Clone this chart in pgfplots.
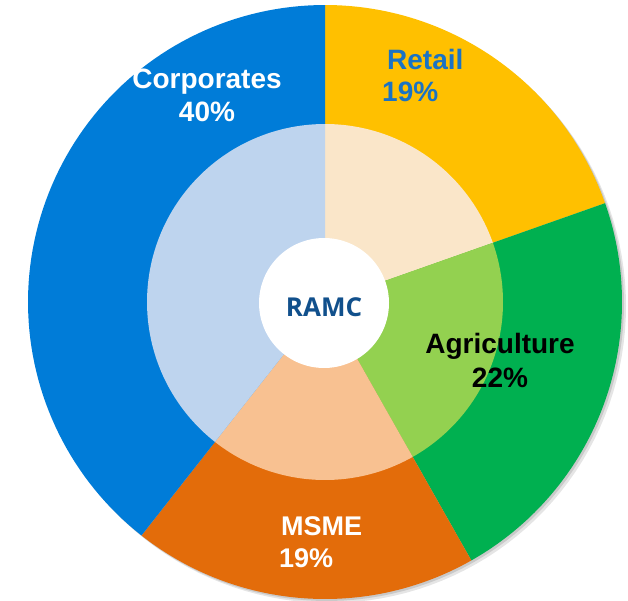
\documentclass[border=0pt]{standalone}
\usepackage{fontspec}
\setmainfont{Liberation Sans}
\newfontfamily\ramcfont{Open Sans}
\usepackage{pgfplots}
\usepackage{pgfplotstable}
\pgfplotsset{compat=1.18}
\definecolor{corpO}{HTML}{007CD8}
\definecolor{corpI}{HTML}{BED4EE}
\definecolor{retO}{HTML}{FFC000}
\definecolor{retI}{HTML}{FAE6C9}
\definecolor{agrO}{HTML}{00B050}
\definecolor{agrI}{HTML}{93D150}
\definecolor{msmO}{HTML}{E36C0A}
\definecolor{msmI}{HTML}{F8C191}
\definecolor{retT}{HTML}{1A73C4}
\definecolor{ramcT}{HTML}{11508C}

\pgfplotstableread{
name share
Retail 19.6
Agriculture 22.2
MSME 18.8
Corporates 39.4
}\shares
\pgfplotstablegetelem{0}{share}\of\shares \let\sA\pgfplotsretval
\pgfplotstablegetelem{1}{share}\of\shares \let\sB\pgfplotsretval
\pgfplotstablegetelem{2}{share}\of\shares \let\sC\pgfplotsretval
\pgfplotstablegetelem{3}{share}\of\shares \let\sD\pgfplotsretval
\pgfmathsetmacro\aZero{90}
\pgfmathsetmacro\aOne{\aZero-3.6*\sA}
\pgfmathsetmacro\aTwo{\aOne-3.6*\sB}
\pgfmathsetmacro\aThree{\aTwo-3.6*\sC}
\pgfmathsetmacro\aFour{\aThree-3.6*\sD}

\newcommand\sector[4]{%
  \addplot[fill=#1, draw=none, domain=#2:#3, samples=90, variable=\t]
    ({325+#4*cos(\t)},{298+#4*sin(\t)}) -- (axis cs:325,298) -- cycle;}

\begin{document}
\begin{tikzpicture}
\begin{axis}[
  width=628pt, height=600pt, scale only axis,
  xmin=0, xmax=628, ymin=0, ymax=600,
  hide axis,
]
% shadow
\addplot[fill=black, opacity=0.10, draw=none, domain=0:360, samples=150, variable=\t]
  ({329+297*cos(\t)},{294+297*sin(\t)}) -- cycle;
\addplot[fill=black, opacity=0.12, draw=none, domain=0:360, samples=150, variable=\t]
  ({327+297*cos(\t)},{296+297*sin(\t)}) -- cycle;
% outer ring
\sector{retO}{\aOne}{\aZero}{297}
\sector{agrO}{\aTwo}{\aOne}{297}
\sector{msmO}{\aThree}{\aTwo}{297}
\sector{corpO}{\aFour}{\aThree}{297}
% inner ring
\sector{retI}{\aOne}{\aZero}{178}
\sector{agrI}{\aTwo}{\aOne}{178}
\sector{msmI}{\aThree}{\aTwo}{178}
\sector{corpI}{\aFour}{\aThree}{178}
% centre
\addplot[fill=white, draw=none, domain=0:360, samples=120, variable=\t]
  ({324+65*cos(\t)},{297+65*sin(\t)}) -- cycle;

\node[anchor=base, inner sep=0, text=white, font=\bfseries\fontsize{28}{30}\selectfont] at (axis cs:207,511) {Corporates};
\node[anchor=base, inner sep=0, text=white, font=\bfseries\fontsize{28}{30}\selectfont] at (axis cs:207,478) {40\%};
\node[anchor=base west, inner sep=0, text=retT, font=\bfseries\fontsize{28}{30}\selectfont] at (axis cs:387,530) {Retail};
\node[anchor=base west, inner sep=0, text=retT, font=\bfseries\fontsize{28}{30}\selectfont] at (axis cs:382,498) {19\%};
\node[anchor=base, inner sep=0, text=black, font=\bfseries\fontsize{28}{30}\selectfont] at (axis cs:500,247) {Agriculture};
\node[anchor=base, inner sep=0, text=black, font=\bfseries\fontsize{28}{30}\selectfont] at (axis cs:500,213) {22\%};
\node[anchor=base west, inner sep=0, text=white, font=\bfseries\fontsize{27}{29}\selectfont] at (axis cs:281,65) {MSME};
\node[anchor=base west, inner sep=0, text=white, font=\bfseries\fontsize{27}{29}\selectfont] at (axis cs:279,33) {19\%};
\node[anchor=base, inner sep=0, text=ramcT, font=\ramcfont\bfseries\fontsize{26}{28}\selectfont] at (axis cs:324,283.5) {RAMC};
\end{axis}
\pgfresetboundingbox
\useasboundingbox (current axis.south west) rectangle (current axis.north east);
\end{tikzpicture}
\end{document}
